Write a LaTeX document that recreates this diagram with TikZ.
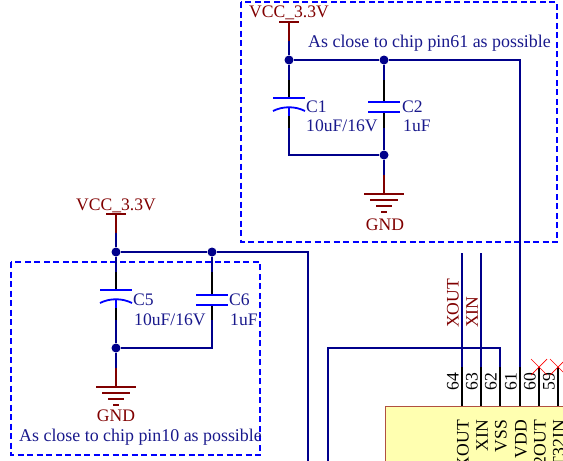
\documentclass[tikz,border=0pt]{standalone}
\usepackage{fontspec}
\setmainfont{Liberation Serif}
\usetikzlibrary{calc}
\definecolor{wirec}{RGB}{0,0,139}
\definecolor{portc}{RGB}{128,0,0}
\definecolor{platec}{RGB}{0,0,255}
\definecolor{notec}{RGB}{25,25,140}
\definecolor{chipc}{RGB}{255,255,176}
\definecolor{chipb}{RGB}{176,80,64}
\newcommand{\txt}{\fontsize{17.6}{19}\selectfont}
\newcommand{\txtn}{\fontsize{17.9}{19}\selectfont}
\tikzset{
  wire/.style={draw=wirec,line width=1.8pt},
  pwr/.style={draw=portc,line width=1.8pt},
  pin/.style={draw=black,line width=1.8pt},
  plate/.style={draw=platec,line width=1.8pt},
  box/.style={draw=platec,line width=1.8pt,dash pattern=on 6pt off 3.5pt},
  dot/.style={circle,fill=wirec,inner sep=0pt,minimum size=9pt},
  port/.style={text=portc,inner sep=0pt,font=\txt},
  part/.style={text=notec,inner sep=0pt,anchor=west,font=\txt},
  nox/.style={draw=red,line width=0.7pt},
}
\begin{document}
\begin{tikzpicture}[x=1pt,y=-1pt]
\clip (0,0) rectangle (563,461);
% boxes
\node (chip) [draw=chipb,fill=chipc,line width=1pt,anchor=north west,minimum width=240pt,minimum height=80pt,inner sep=0pt] at (385,406) {};
\draw[box] (241,2) rectangle (557,242);
\draw[box] (11,262) rectangle (260,455);
%
% decoupling near pin 61
\coordinate (v1) at (289,22);
\coordinate (v1a) at (289,41);
\node (j1) [dot] at (289,60) {};
\node (j2) [dot] at (384,60) {};
\node (j3) [dot] at (384,155) {};
\coordinate (c1t) at (289,98);
\coordinate (c1b) at (289,108);
\coordinate (c2t) at (384,102);
\coordinate (c2b) at (384,112);
\coordinate (g1) at (384,194);
\coordinate (g1a) at (384,175);
\draw[pwr] (v1) -- (v1a);
\draw[pwr] ($(v1)+(-10,0)$) -- ($(v1)+(10,0)$);
\draw[wire] (v1a) -- (j1);
\draw[wire] (j1) -- (j2);
\draw[pin] (289,80) -- (c1t);
\draw[pin] (c1b) -- (289,128);
\draw[wire] (j1) -- (289,80);
\draw[wire] (289,128) |- (j3);
\draw[wire] (j2) -- (384,80);
\draw[pin] (384,80) -- (c2t);
\draw[pin] (c2b) -- (384,128);
\draw[wire] (384,128) -- (j3);
\draw[wire] (j3) -- (g1a);
\draw[pwr] (g1a) -- (g1);
\draw[plate] ($(c1t)+(-16,0)$) -- ($(c1t)+(16,0)$);
\draw[plate] ($(c1b)+(-16,3)$) .. controls ($(c1b)+(-6,-2)$) and ($(c1b)+(6,-2)$) .. ($(c1b)+(16,3)$);
\draw[plate] ($(c1b)+(0,-1)$) -- ($(c1b)+(0,8)$);
\draw[plate] ($(c2t)+(-16,0)$) -- ($(c2t)+(16,0)$);
\draw[plate] ($(c2b)+(-16,0)$) -- ($(c2b)+(16,0)$);
\foreach \w/\y in {20/0,14/6,8/12,3/18}
  \draw[draw=portc,line width=1.4pt] ($(g1)+(-\w,\y)$) -- ($(g1)+(\w,\y)$);
\node (vcc1) [port] at (289,13) {VCC\_3.3V};
\node (gnd1) [port] at (385,225) {GND};
\node (lc1) [part] at (306,107) {C1};
\node (vc1) [part] at (306,126) {10uF/16V};
\node (lc2) [part] at (402,107) {C2};
\node (vc2) [part] at (403,126) {1uF};
\node (note1) [part,font=\txtn] at (308,43) {As close to chip pin61 as possible};
%
% decoupling near pin 10
\coordinate (v2) at (116,214);
\coordinate (v2a) at (116,233);
\node (j4) [dot] at (116,252) {};
\node (j5) [dot] at (212,252) {};
\node (j6) [dot] at (116,348) {};
\coordinate (c5t) at (116,290);
\coordinate (c5b) at (116,300);
\coordinate (c6t) at (212,295);
\coordinate (c6b) at (212,305);
\coordinate (g2) at (116,387);
\coordinate (g2a) at (116,368);
\coordinate (w1) at (308,461);
\draw[pwr] (v2) -- (v2a);
\draw[pwr] ($(v2)+(-10,0)$) -- ($(v2)+(10,0)$);
\draw[wire] (v2a) -- (j4);
\draw[wire] (j4) -- (j5);
\draw[wire] (j5) -| (w1);
\draw[wire] (j4) -- (116,272);
\draw[pin] (116,272) -- (c5t);
\draw[pin] (c5b) -- (116,320);
\draw[wire] (116,320) -- (j6);
\draw[wire] (j5) -- (212,272);
\draw[pin] (212,272) -- (c6t);
\draw[pin] (c6b) -- (212,320);
\draw[wire] (j6) -| (212,320);
\draw[wire] (j6) -- (g2a);
\draw[pwr] (g2a) -- (g2);
\draw[plate] ($(c5t)+(-16,0)$) -- ($(c5t)+(16,0)$);
\draw[plate] ($(c5b)+(-16,3)$) .. controls ($(c5b)+(-6,-2)$) and ($(c5b)+(6,-2)$) .. ($(c5b)+(16,3)$);
\draw[plate] ($(c5b)+(0,-1)$) -- ($(c5b)+(0,8)$);
\draw[plate] ($(c6t)+(-16,0)$) -- ($(c6t)+(16,0)$);
\draw[plate] ($(c6b)+(-16,0)$) -- ($(c6b)+(16,0)$);
\foreach \w/\y in {20/0,14/6,8/12,3/18}
  \draw[draw=portc,line width=1.4pt] ($(g2)+(-\w,\y)$) -- ($(g2)+(\w,\y)$);
\node (vcc2) [port] at (116,206) {VCC\_3.3V};
\node (gnd2) [port] at (116,416) {GND};
\node (lc5) [part] at (133,300) {C5};
\node (vc5) [part] at (134,320) {10uF/16V};
\node (lc6) [part] at (229,300) {C6};
\node (vc6) [part] at (230,320) {1uF};
\node (note2) [part,font=\txtn] at (19,437) {As close to chip pin10 as possible};
%
% chip pins
\foreach \n/\x/\num/\lab in {a/462/64/XOUT,b/481/63/XIN,c/500/62/VSS,d/520/61/VDD,e/539/60/2OUT,f/558/59/T32IN}{
  \coordinate (pin\n) at (\x,367);
  \coordinate (end\n) at (\x,406);
  \draw[pin] (pin\n) -- (end\n);
  \node (num\n) [rotate=90,inner sep=0pt,anchor=south,font=\txt] at (\x-3,381.5) {\num};
  \node (lab\n) [rotate=90,inner sep=0pt,anchor=east,font=\txt] at (\x+1,420) {\lab};
}
\coordinate (topa) at (462,253);
\coordinate (topb) at (481,253);
\coordinate (w2) at (328,461);
\draw[wire] (topa) -- (pina);
\draw[wire] (topb) -- (pinb);
\draw[wire] (w2) |- (328,348) -| (pinc);
\draw[wire] (j2) -| (pind);
\node (xout) [port,rotate=90,anchor=west] at (453,328) {XOUT};
\node (xin) [port,rotate=90,anchor=west] at (472,328) {XIN};
\foreach \n in {e,f}
  \draw[nox] ($(pin\n)+(-8,-8)$) -- ($(pin\n)+(8,8)$) ($(pin\n)+(-8,8)$) -- ($(pin\n)+(8,-8)$);
\end{tikzpicture}
\end{document}
